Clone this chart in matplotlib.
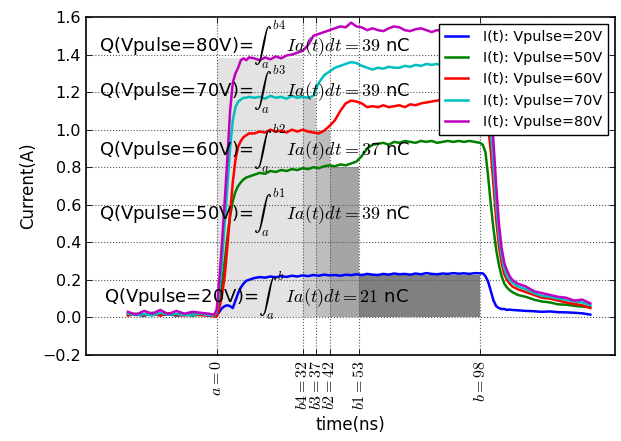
#current pulses for different Vpulse, with the integrated charge marked
import matplotlib
matplotlib.use('Agg')
import matplotlib.pyplot as plt

plt.rcParams['mathtext.fontset'] = 'cm'

# time axis (ns), a=0 is the start of the pulse
t = [-33, -30, -27, -24, -21, -18, -15, -12, -9, -6, -3, -1,
     0, 1, 2, 3, 4, 5, 6, 7, 8, 9, 10, 11, 12,
     14, 16, 18, 20, 22, 24, 26, 28, 30, 32,
     34, 36, 38, 40, 42, 44, 46, 48, 50, 52,
     54, 56, 58, 60, 62, 64, 66, 68, 70, 72,
     74, 76, 78, 80, 82, 84, 86, 88, 90, 92,
     94, 96, 98,
     99, 100, 101, 102, 103, 104, 105, 106, 107, 108, 109, 110, 112,
     115, 118, 121, 124, 127, 130, 133, 136, 139]

i20 = [0.02, 0.015, 0.01, 0.02, 0.012, 0.018, 0.01, 0.015, 0.012, 0.02, 0.01, 0.008,
       0.01, 0.03, 0.05, 0.06, 0.065, 0.06, 0.05, 0.09, 0.13, 0.16, 0.18, 0.195, 0.2,
       0.21, 0.215, 0.212, 0.218, 0.214, 0.22, 0.216, 0.222, 0.218, 0.224,
       0.22, 0.226, 0.222, 0.228, 0.224, 0.226, 0.222, 0.228, 0.225, 0.23,
       0.226, 0.232, 0.228, 0.226, 0.232, 0.228, 0.234, 0.23, 0.232, 0.228,
       0.234, 0.23, 0.236, 0.232, 0.23, 0.234, 0.232, 0.236, 0.233, 0.235,
       0.232, 0.236, 0.235,
       0.235, 0.22, 0.19, 0.14, 0.09, 0.06, 0.05, 0.045, 0.045, 0.04, 0.042, 0.04, 0.038,
       0.035, 0.033, 0.03, 0.032, 0.028, 0.027, 0.025, 0.022, 0.015]

i50 = [0.015, 0.02, 0.01, 0.025, 0.015, 0.02, 0.012, 0.018, 0.01, 0.015, 0.012, 0.01,
       0.01, 0.08, 0.18, 0.3, 0.43, 0.54, 0.62, 0.67, 0.7, 0.72, 0.735, 0.745, 0.75,
       0.76, 0.77, 0.765, 0.78, 0.775, 0.785, 0.78, 0.79, 0.785, 0.795,
       0.79, 0.8, 0.795, 0.805, 0.81, 0.805, 0.815, 0.81, 0.82, 0.83,
       0.86, 0.9, 0.92, 0.925, 0.93, 0.92, 0.935, 0.93, 0.94, 0.935,
       0.93, 0.94, 0.935, 0.94, 0.93, 0.935, 0.94, 0.935, 0.94, 0.935,
       0.94, 0.935, 0.93,
       0.92, 0.88, 0.75, 0.6, 0.47, 0.36, 0.28, 0.22, 0.18, 0.16, 0.145, 0.135, 0.12,
       0.11, 0.095, 0.085, 0.08, 0.07, 0.068, 0.062, 0.058, 0.055]

i60 = [0.01, 0.018, 0.012, 0.02, 0.01, 0.022, 0.015, 0.01, 0.018, 0.012, 0.01, 0.005,
       0.005, 0.05, 0.12, 0.22, 0.38, 0.55, 0.72, 0.84, 0.91, 0.94, 0.96, 0.97, 0.98,
       0.98, 0.99, 0.985, 1.0, 0.99, 0.995, 0.985, 1.0, 0.99, 1.0,
       0.99, 0.985, 0.98, 0.995, 1.02, 1.05, 1.1, 1.14, 1.155, 1.15,
       1.14, 1.12, 1.125, 1.12, 1.13, 1.12, 1.125, 1.13, 1.12, 1.135,
       1.13, 1.14, 1.145, 1.15, 1.155, 1.16, 1.155, 1.165, 1.16, 1.17,
       1.165, 1.17, 1.165,
       1.16, 1.12, 1.02, 0.88, 0.7, 0.52, 0.38, 0.29, 0.23, 0.2, 0.18, 0.165, 0.15,
       0.135, 0.12, 0.105, 0.1, 0.09, 0.08, 0.072, 0.065, 0.05]

i70 = [0.02, 0.012, 0.018, 0.01, 0.025, 0.015, 0.02, 0.012, 0.015, 0.02, 0.012, 0.01,
       0.03, 0.15, 0.3, 0.5, 0.7, 0.9, 1.05, 1.12, 1.15, 1.16, 1.17, 1.17, 1.175,
       1.17, 1.175, 1.165, 1.18, 1.17, 1.175, 1.165, 1.18, 1.17, 1.175,
       1.17, 1.18, 1.25, 1.29, 1.31, 1.33, 1.34, 1.35, 1.36, 1.355,
       1.34, 1.33, 1.32, 1.33, 1.325, 1.335, 1.33, 1.33, 1.34, 1.335,
       1.345, 1.34, 1.35, 1.345, 1.35, 1.34, 1.35, 1.345, 1.35, 1.345,
       1.35, 1.345, 1.35,
       1.34, 1.3, 1.18, 1.0, 0.8, 0.6, 0.44, 0.33, 0.26, 0.22, 0.2, 0.185, 0.165,
       0.15, 0.13, 0.115, 0.11, 0.1, 0.095, 0.085, 0.08, 0.065]

i80 = [0.03, 0.015, 0.035, 0.02, 0.04, 0.018, 0.035, 0.02, 0.03, 0.025, 0.02, 0.015,
       0.04, 0.2, 0.4, 0.62, 0.85, 1.1, 1.25, 1.3, 1.33, 1.37, 1.38, 1.37, 1.385,
       1.38, 1.37, 1.385, 1.375, 1.39, 1.38, 1.395, 1.4, 1.41, 1.42,
       1.45, 1.5, 1.51, 1.52, 1.53, 1.54, 1.55, 1.545, 1.57, 1.55,
       1.545, 1.53, 1.54, 1.53, 1.525, 1.54, 1.55, 1.545, 1.53, 1.525,
       1.535, 1.54, 1.53, 1.52, 1.53, 1.525, 1.535, 1.53, 1.54, 1.535,
       1.54, 1.53, 1.535,
       1.53, 1.48, 1.35, 1.15, 0.93, 0.7, 0.5, 0.37, 0.29, 0.25, 0.22, 0.2, 0.18,
       0.165, 0.14, 0.13, 0.12, 0.11, 0.105, 0.09, 0.095, 0.075]

volts = [20, 50, 60, 70, 80]
currents = [i20, i50, i60, i70, i80]
colors = ['b', 'g', 'r', 'c', 'm']

# integration limits and charges
limit_names = ['b', 'b1', 'b2', 'b3', 'b4']
limit_times = [98, 53, 42, 37, 32]
charges = [21, 39, 37, 39, 39]
fill_tops = [0.225, 0.8, 1.0, 1.17, 1.38]
greys = ['#808080', '#a5a5a5', '#bdbdbd', '#cdcdcd', '#e3e3e3']

# where the Q= texts go
text_x = [-42, -43.6, -43.6, -43.6, -43.6]
text_y = [0.075, 0.515, 0.855, 1.17, 1.41]

xticks = [0, 32, 37, 42, 53, 98]
xticklabels = ['$a=0$', '$b4=32$', '$b3=37$', '$b2=42$', '$b1=53$', '$b=98$']

fig = plt.figure(figsize=(6.21, 4.41), dpi=100)
ax = fig.add_axes([0.1385, 0.195, 0.8519, 0.7664])

#shaded areas, longest first so the shorter ones lie on top
for k in range(len(volts)):
	ax.fill_between([0, limit_times[k]], 0, fill_tops[k], color=greys[k], lw=0, zorder=1)

for k in range(len(volts)):
	ax.plot(t, currents[k], color=colors[k], lw=1.8, zorder=3,
			label='I(t): Vpulse=%dV' % volts[k])

for k in range(len(volts)):
	s = r'Q(Vpulse=%dV)=$\int_{a}^{%s}\,Ia(t)dt=%d$ nC' % (volts[k], limit_names[k], charges[k])
	ax.text(text_x[k], text_y[k], s, fontsize=13, va='baseline', ha='left', zorder=4)

ax.set_xlim(-48.6, 148.2)
ax.set_ylim(-0.2, 1.6)
ax.set_xticks(xticks)
ax.set_xticklabels(xticklabels, rotation=90, fontsize=11.5)
ax.set_yticks([-0.2, 0.0, 0.2, 0.4, 0.6, 0.8, 1.0, 1.2, 1.4, 1.6])
ax.tick_params(axis='y', labelsize=11.5)
ax.tick_params(direction='in', top=True, right=True, length=4, width=0.6)

ax.set_axisbelow(False)
ax.grid(True, linestyle=':', color='0.35', lw=0.8)
for sp in ax.spines.values():
	sp.set_linewidth(1.2)

ax.set_xlabel('time(ns)', fontsize=12)
ax.set_ylabel('Current(A)', fontsize=12)

leg = ax.legend(loc='upper right', fontsize=10.4, fancybox=False, edgecolor='black',
				framealpha=1, handlelength=1.6, handletextpad=1.0, borderaxespad=0.5)
leg.get_frame().set_linewidth(1.0)

plt.savefig('out.png', dpi=100)
